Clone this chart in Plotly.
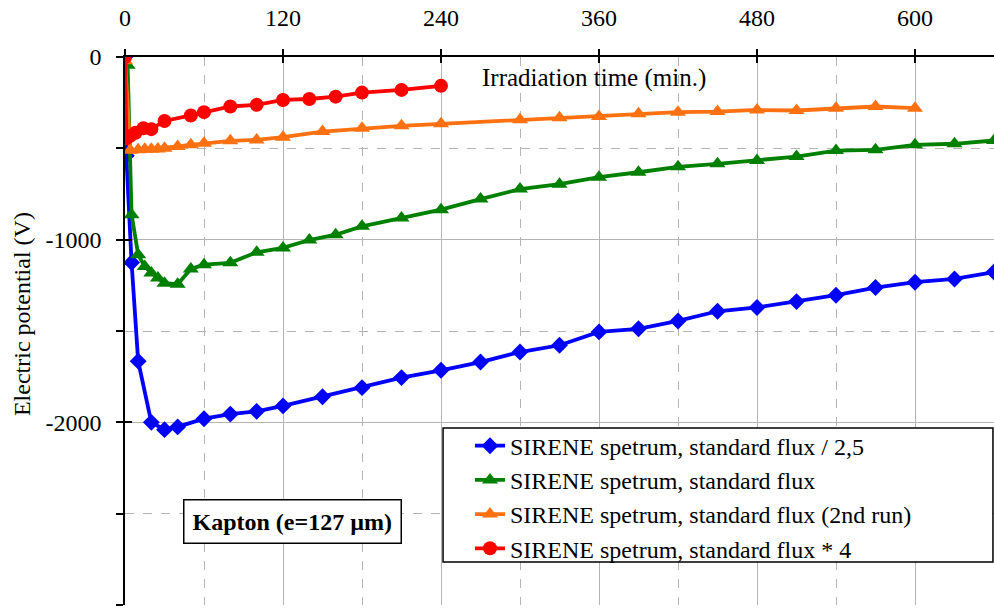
import plotly.graph_objects as go

# ---- data ----
t_blue = [0, 1, 5, 10, 20, 30, 40, 60, 80, 100, 120, 150, 180, 210, 240, 270, 300,
          330, 360, 390, 420, 450, 480, 510, 540, 570, 600, 630, 660]
v_blue = [0, -540, -1125, -1665, -2000, -2040, -2025, -1980, -1955, -1940, -1910,
          -1860, -1810, -1755, -1715, -1670, -1615, -1578, -1505, -1488, -1445,
          -1392, -1371, -1339, -1304, -1262, -1233, -1215, -1177]

t_green = [2, 5, 10, 15, 20, 25, 30, 40, 50, 60, 80, 100, 120, 140, 160, 180, 210,
           240, 270, 300, 330, 360, 390, 420, 450, 480, 510, 540, 570, 600, 630, 660]
v_green = [-45, -863, -1082, -1147, -1182, -1210, -1238, -1244, -1160, -1137, -1127,
           -1069, -1045, -1002, -973, -927, -882, -836, -778, -723, -696, -658,
           -631, -601, -585, -567, -545, -512, -508, -481, -475, -457]

t_orange = [0, 4, 10, 15, 20, 25, 30, 40, 50, 60, 80, 100, 120, 150, 180, 210, 240,
            300, 330, 360, 390, 420, 450, 480, 510, 540, 570, 600]
v_orange = [-20, -510, -508, -505, -505, -503, -500, -490, -481, -472, -459, -454,
            -439, -408, -390, -377, -366, -344, -332, -326, -311, -302, -299, -290,
            -293, -280, -271, -280]

t_red = [0, 1, 4, 8, 14, 20, 30, 50, 60, 80, 100, 120, 140, 160, 180, 210, 240]
v_red = [0, -445, -432, -415, -390, -395, -350, -320, -302, -271, -262, -235, -230,
         -217, -195, -180, -158]

names = ["SIRENE spetrum, standard flux / 2,5",
         "SIRENE spetrum, standard flux",
         "SIRENE spetrum, standard flux (2nd run)",
         "SIRENE spetrum, standard flux * 4"]

x_ticks = [0, 120, 240, 360, 480, 600]
y_ticks = [0, -1000, -2000, -3000]
y_tick_labels = ["0", "-1000", "-2000", "-3000"]

FONT = "Liberation Serif"
FS = 24

fig = go.Figure()
series = [
    (t_blue, v_blue, "#0000FF", "diamond", 13),
    (t_green, v_green, "#008000", "triangle-up", 14),
    (t_orange, v_orange, "#FF7010", "triangle-up", 14),
    (t_red, v_red, "#FF0000", "circle", 14),
]
for (t, v, c, sym, sz), nm in zip(series, names):
    fig.add_trace(go.Scatter(x=t, y=v, mode="lines+markers", name=nm,
                             line=dict(color=c, width=3.8),
                             marker=dict(symbol=sym, size=sz, color=c)))

grid = "#b4b4b4"
fig.update_layout(
    width=994, height=616,
    margin=dict(l=125, r=0, t=57, b=11, autoexpand=False),
    plot_bgcolor="white", paper_bgcolor="white",
    font=dict(family=FONT, size=FS, color="black"),
    showlegend=True,
    legend=dict(x=0.397, y=0.331, xanchor="left", yanchor="top",
                bgcolor="rgba(0,0,0,0)", borderwidth=0,
                font=dict(family=FONT, size=FS), tracegroupgap=0),
    xaxis=dict(range=[0, 660], side="top", tickvals=x_ticks, automargin=False,
               ticks="outside", ticklen=6, tickwidth=1.5, tickcolor="black",
               showline=True, linecolor="black", linewidth=1.5,
               showgrid=True, gridcolor=grid, gridwidth=1,
               minor=dict(dtick=60, showgrid=True, gridcolor=grid, griddash="dash",
                          gridwidth=1, ticks=""),
               zeroline=False, ticklabelstandoff=14,
               tickfont=dict(family=FONT, size=FS)),
    yaxis=dict(range=[-3000, 0], tickvals=y_ticks, ticktext=y_tick_labels,
               automargin=False,
               ticks="outside", ticklen=7, tickwidth=1.5, tickcolor="black",
               showline=True, linecolor="black", linewidth=1.5,
               showgrid=True, gridcolor=grid, gridwidth=1,
               minor=dict(dtick=500, tick0=0, showgrid=True, gridcolor=grid,
                          griddash="dash", gridwidth=1, ticks="outside",
                          ticklen=7, tickwidth=1.5, tickcolor="black"),
               zeroline=False, ticklabelstandoff=10,
               tickfont=dict(family=FONT, size=FS)),
    xaxis2=dict(range=[0, 660], overlaying="x", anchor="y", side="top",
                automargin=False,
                tickvals=x_ticks, ticks="inside", ticklen=6, tickwidth=1.5,
                tickcolor="black", showticklabels=False, showgrid=False,
                zeroline=False, showline=False),
    yaxis2=dict(range=[-3000, 0], overlaying="y", anchor="x", side="left",
                automargin=False,
                tickvals=y_ticks, ticks="inside", ticklen=7, tickwidth=1.5,
                tickcolor="black", showticklabels=False, showgrid=False,
                zeroline=False, showline=False),
)

# empty helper trace so the overlay axes are drawn
fig.add_trace(go.Scatter(x=[], y=[], xaxis="x2", yaxis="y2", showlegend=False,
                         hoverinfo="skip"))

# legend frame
fig.add_shape(type="rect", xref="paper", yref="paper",
              x0=0.366, x1=0.9988, y0=0.0785, y1=0.323,
              line=dict(color="black", width=1.5), fillcolor="white", layer="above")

fig.add_annotation(text="Irradiation time (min.)", xref="paper", yref="paper",
                   x=0.54, y=0.9617, xanchor="center", yanchor="middle",
                   showarrow=False, font=dict(family=FONT, size=25))
fig.add_annotation(text="Electric potential (V)", xref="paper", yref="paper",
                   x=-0.1185, y=0.531, xanchor="center", yanchor="middle",
                   textangle=-90, showarrow=False,
                   font=dict(family=FONT, size=FS))
fig.add_annotation(text="<b>Kapton (e=127 µm)</b>", xref="paper", yref="paper",
                   x=0.1933, y=0.1515, xanchor="center", yanchor="middle",
                   showarrow=False,
                   bordercolor="black", borderwidth=1.5, borderpad=8,
                   bgcolor="white", font=dict(family=FONT, size=FS))

fig.write_html("out.html",
               config={"displayModeBar": False},
               post_script="document.body.style.margin='0';"
                           "document.body.style.overflow='hidden';")
